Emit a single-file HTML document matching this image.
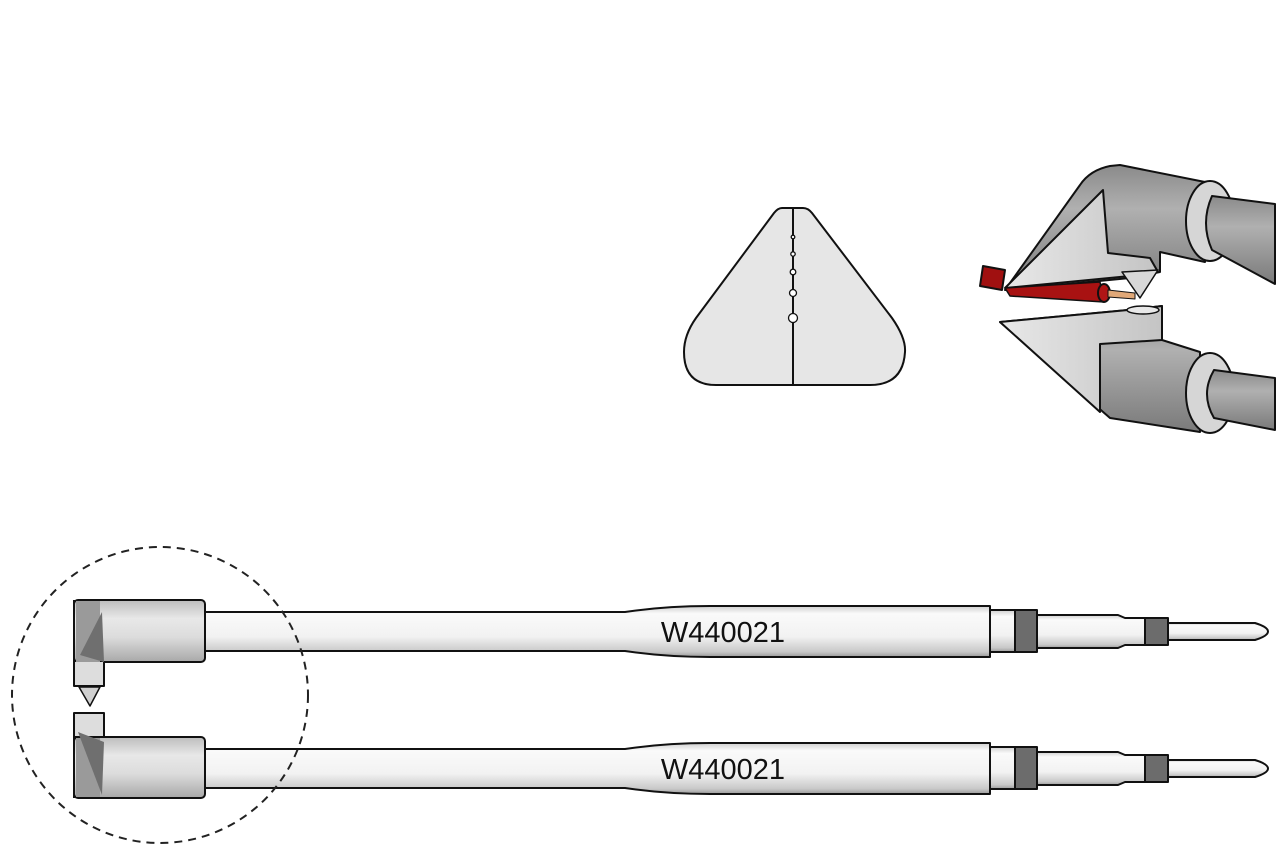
<!DOCTYPE html>
<html><head><style>html,body{margin:0;padding:0;background:#fff}svg{display:block}</style></head>
<body>
<svg width="1280" height="850" viewBox="0 0 1280 850" xmlns="http://www.w3.org/2000/svg">
<defs>
<linearGradient id="sh" x1="0" y1="0" x2="0" y2="1">
<stop offset="0" stop-color="#cfcfcf"/><stop offset="0.15" stop-color="#fafafa"/><stop offset="0.6" stop-color="#f2f2f2"/><stop offset="0.9" stop-color="#c8c8c8"/><stop offset="1" stop-color="#9a9a9a"/></linearGradient>
<linearGradient id="hd" x1="0" y1="0" x2="0" y2="1">
<stop offset="0" stop-color="#bdbdbd"/><stop offset="0.3" stop-color="#e8e8e8"/><stop offset="0.6" stop-color="#dcdcdc"/><stop offset="1" stop-color="#a8a8a8"/></linearGradient>
<linearGradient id="g3" x1="0" y1="0" x2="0" y2="1">
<stop offset="0" stop-color="#8a8a8a"/><stop offset="0.35" stop-color="#b0b0b0"/><stop offset="1" stop-color="#7a7a7a"/></linearGradient>
<linearGradient id="l3" x1="0" y1="0" x2="1" y2="0">
<stop offset="0" stop-color="#e8e8e8"/><stop offset="1" stop-color="#c4c4c4"/></linearGradient>
</defs>

<!-- triangle cross-section -->
<path d="M782,208 L803,208 Q808,208 812,213 L892,318 Q906,338 905,352 Q903,385 870,385 L716,385 Q684,385 684,352 Q684,335 696,318 L774,213 Q778,208 782,208 Z" fill="#e6e6e6" stroke="#111" stroke-width="2"/>
<line x1="793" y1="208" x2="793" y2="385" stroke="#111" stroke-width="2"/>
<g fill="#fff" stroke="#111" stroke-width="1.3">
<circle cx="793" cy="237" r="1.8"/><circle cx="793" cy="254" r="2.2"/><circle cx="793" cy="272" r="2.8"/><circle cx="793" cy="293" r="3.5"/><circle cx="793" cy="318" r="4.5"/></g>

<!-- 3D jaws -->
<g stroke="#111" stroke-width="2" stroke-linejoin="round">
<!-- top jaw -->
<path d="M1005,290 L1080,185 Q1090,170 1110,166 L1120,165 L1205,182 L1205,262 L1160,252 L1160,272 L1130,278 Z" fill="url(#g3)"/>
<path d="M1005,288 L1103,190 L1108,253 L1150,258 L1158,272 L1130,276 Z" fill="url(#l3)"/>
<path d="M1122,272 L1158,270 L1140,298 Z" fill="#d8d8d8" stroke-width="1.5"/>
<ellipse cx="1210" cy="221" rx="24" ry="40" fill="#d6d6d6"/>
<path d="M1212,196 L1275,204 L1275,284 L1212,250 Q1200,223 1212,196 Z" fill="url(#g3)"/>
<!-- wire -->
<path d="M983,266 L1005,270 L1002,290 L980,286 Z" fill="#a01010"/>
<path d="M1005,288 L1100,282 L1104,302 L1010,296 Z" fill="#a81212" stroke-width="1.5"/>
<ellipse cx="1104" cy="293" rx="6" ry="9" fill="#b01515"/>
<path d="M1108,290 L1135,293 L1135,299 L1108,297 Z" fill="#e0a878" stroke-width="1"/>
<!-- bottom jaw -->
<path d="M1000,322 L1128,310 L1162,306 L1162,340 L1200,352 L1200,432 L1110,418 Z" fill="url(#g3)"/>
<path d="M1000,322 L1128,310 L1162,306 L1162,340 L1100,344 L1100,412 Z" fill="url(#l3)"/>
<ellipse cx="1210" cy="393" rx="24" ry="40" fill="#d6d6d6"/>
<path d="M1214,370 L1275,378 L1275,430 L1214,418 Q1200,394 1214,370 Z" fill="url(#g3)"/>
<ellipse cx="1143" cy="310" rx="16" ry="4" fill="#e8e8e8" stroke-width="1.5"/>
</g>

<!-- top tool -->
<g stroke="#111" stroke-width="2" stroke-linejoin="round">
<path d="M200,612 L625,612 Q665,606 710,606 L990,606 L990,657 L710,657 Q665,657 625,651 L200,651 Z" fill="url(#sh)"/>
<rect x="990" y="610" width="25" height="42" fill="url(#sh)"/>
<rect x="1015" y="610" width="22" height="42" fill="#6c6c6c"/>
<path d="M1037,615 L1118,615 L1125,618 L1145,618 L1145,645 L1125,645 L1118,648 L1037,648 Z" fill="url(#sh)"/>
<rect x="1145" y="618" width="23" height="27" fill="#6c6c6c"/>
<path d="M1168,623 L1255,623 Q1268,627 1268,631.5 Q1268,636 1255,640 L1168,640 Z" fill="url(#sh)"/>
<rect x="74" y="600" width="131" height="62" rx="4" fill="url(#hd)"/>
<path d="M76,601 L100,601 L100,662 L76,662 Z" fill="#9a9a9a" stroke="none"/>
<path d="M102,612 L80,655 L104,662 Z" fill="#6f6f6f" stroke="none"/>
<path d="M74,662 L74,686 L104,686 L104,662" fill="#ddd"/>
<line x1="74" y1="600" x2="74" y2="686"/>
<path d="M79,687 L100,687 L90,706 Z" fill="#d0d0d0" stroke-width="1.5"/>
<text x="723" y="642" font-family="Liberation Sans, sans-serif" font-size="29" fill="#111" stroke="none" text-anchor="middle">W440021</text>
</g>

<!-- bottom tool -->
<g stroke="#111" stroke-width="2" stroke-linejoin="round">
<path d="M200,749 L625,749 Q665,743 710,743 L990,743 L990,794 L710,794 Q665,794 625,788 L200,788 Z" fill="url(#sh)"/>
<rect x="990" y="747" width="25" height="42" fill="url(#sh)"/>
<rect x="1015" y="747" width="22" height="42" fill="#6c6c6c"/>
<path d="M1037,752 L1118,752 L1125,755 L1145,755 L1145,782 L1125,782 L1118,785 L1037,785 Z" fill="url(#sh)"/>
<rect x="1145" y="755" width="23" height="27" fill="#6c6c6c"/>
<path d="M1168,760 L1255,760 Q1268,764 1268,768.5 Q1268,773 1255,777 L1168,777 Z" fill="url(#sh)"/>
<path d="M74,713 L104,713 L104,737 L74,737 Z" fill="#ddd"/>
<rect x="74" y="737" width="131" height="61" rx="4" fill="url(#hd)"/>
<path d="M76,738 L100,738 L100,797 L76,797 Z" fill="#9a9a9a" stroke="none"/>
<path d="M78,732 L104,742 L102,795 Z" fill="#6f6f6f" stroke="none"/>
<line x1="74" y1="713" x2="74" y2="798"/>
<text x="723" y="779" font-family="Liberation Sans, sans-serif" font-size="29" fill="#111" stroke="none" text-anchor="middle">W440021</text>
</g>

<!-- dashed circle on top -->
<circle cx="160" cy="695" r="148" fill="none" stroke="#222" stroke-width="2" stroke-dasharray="8,6"/>
</svg>
</body></html>
